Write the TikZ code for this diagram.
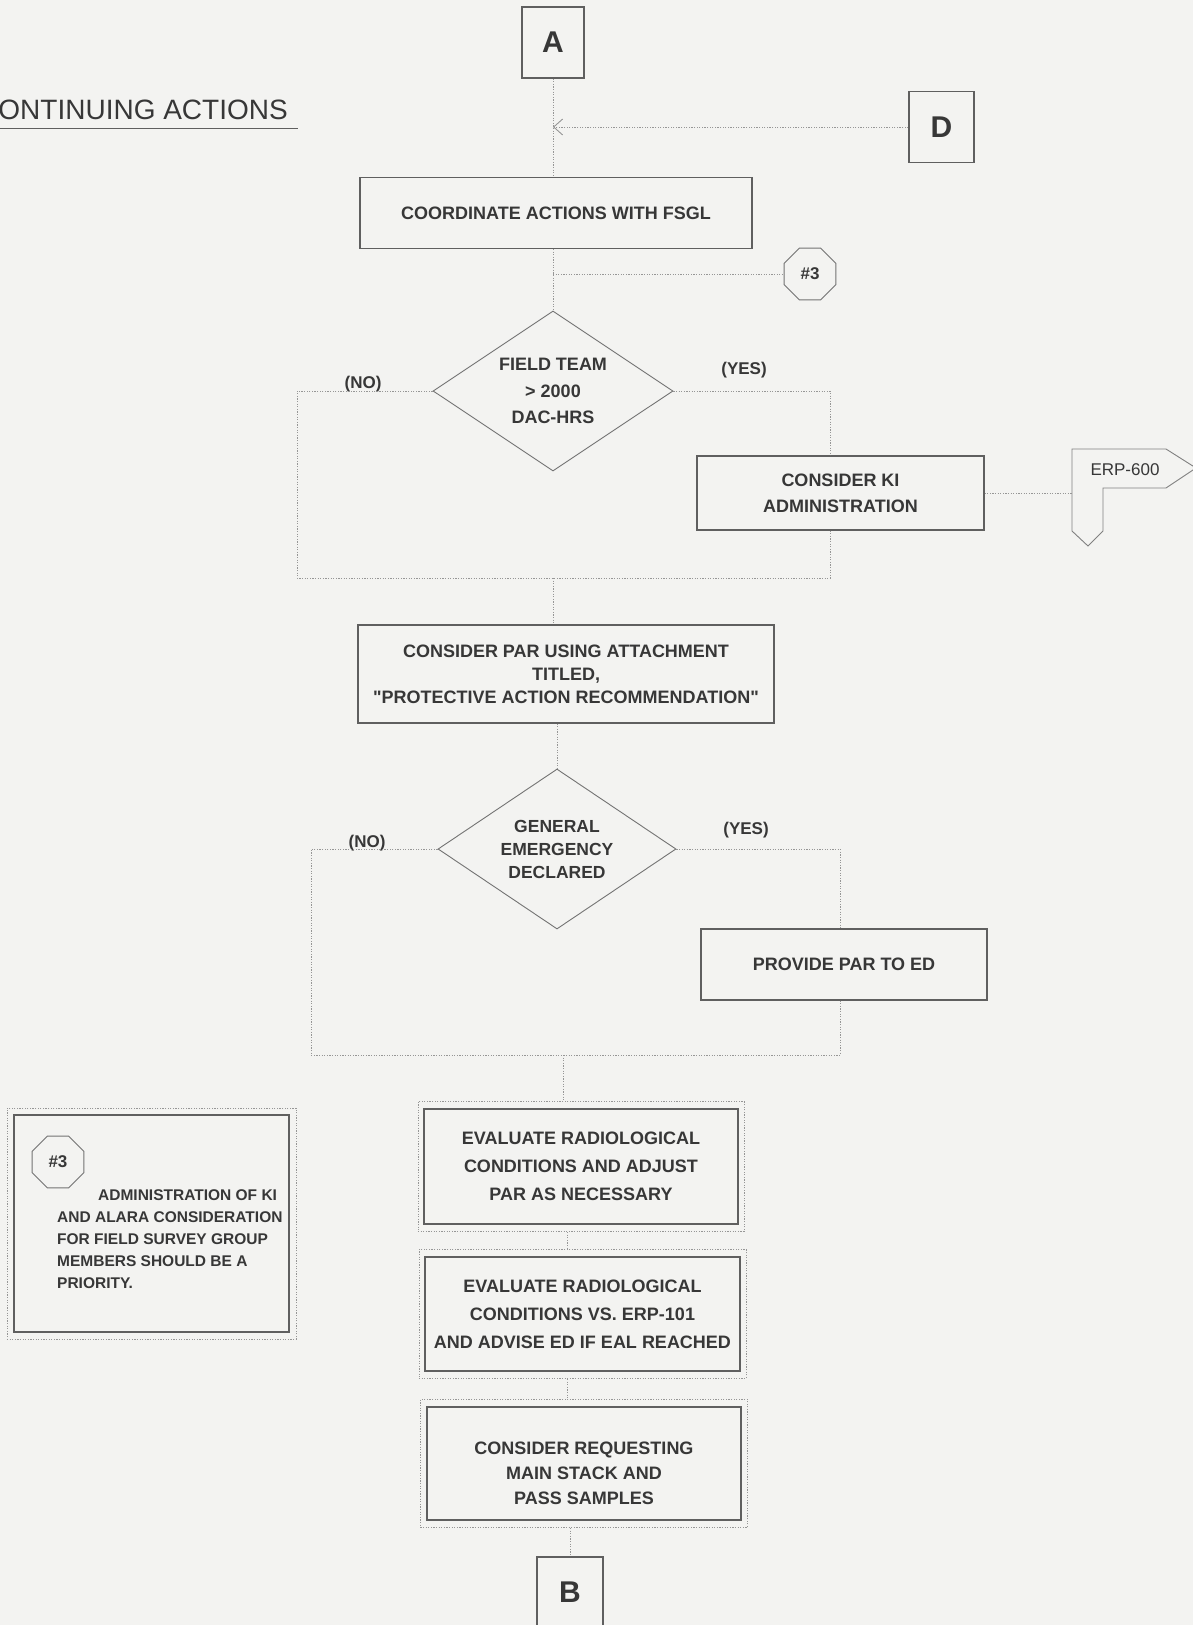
\documentclass[tikz,border=0pt]{standalone}
\usepackage{fontspec}
\setmainfont{Liberation Sans}
\usetikzlibrary{shapes.geometric,arrows.meta,fit,calc}

\definecolor{paper}{RGB}{243,243,241}
\definecolor{ink}{RGB}{55,55,55}
\definecolor{rule}{RGB}{95,95,95}
\definecolor{dots}{RGB}{150,150,150}

\tikzset{
  every node/.style={text=ink},
  procbox/.style={draw=rule, line width=1.1pt, inner sep=0pt, align=center,
    font=\fontsize{18}{26}\selectfont\bfseries},
  decision/.style={diamond, draw=black!55, line width=0.9pt, inner sep=0pt,
    aspect=1.5, align=center, font=\fontsize{18}{26.5}\selectfont\bfseries},
  conn/.style={draw=dots, line width=0.9pt, dash pattern=on 1.2pt off 1.4pt},
  framebox/.style={draw=dots, line width=0.9pt, dash pattern=on 1.2pt off 1.4pt},
  tag/.style={regular polygon, regular polygon sides=8, draw=black!55,
    line width=0.9pt, minimum size=56pt, inner sep=0pt,
    font=\fontsize{17}{17}\selectfont\bfseries},
  lettbox/.style={draw=rule, line width=1.1pt, inner sep=0pt,
    font=\fontsize{30}{30}\selectfont\bfseries},
  branch/.style={inner sep=0pt, font=\fontsize{17}{17}\selectfont\bfseries},
}

\begin{document}
\begin{tikzpicture}[x=1pt,y=-1pt]
\useasboundingbox (0,0) rectangle (1193,1625);
\clip (0,0) rectangle (1193,1625);
\fill[paper] (0,0) rectangle (1193,1625);

% heading
\node[anchor=east, inner sep=0pt, font=\fontsize{28}{28}\selectfont] (title) at (288,110) {CONTINUING ACTIONS};
\draw[rule, line width=1pt] (0,128) -- (298,128);

% entry connectors
\node[lettbox, minimum width=62pt, minimum height=71pt] (A) at (553,42.5) {A};
\node[lettbox, minimum width=65pt, minimum height=71pt] (D) at (941.5,127) {D};

\node[procbox, minimum width=392pt, minimum height=71pt] (coord) at (556,213) {COORDINATE ACTIONS WITH FSGL};
\node[tag] (n3) at (810,274) {\#3};

% first decision
\node[decision, minimum width=240pt, minimum height=160pt] (q1) at (553,391) {FIELD TEAM\\> 2000\\DAC-HRS};
\node[branch] (no1) at (363,384) {(NO)};
\node[branch] (yes1) at (744,370) {(YES)};
\node[procbox, minimum width=287pt, minimum height=74pt] (ki) at (840.5,493) {CONSIDER KI\\ADMINISTRATION};

% off-page reference
\draw[draw=black!50, line width=0.9pt] (1072,449) -- (1166,449) -- (1196,468) -- (1166,488)
  -- (1103,488) -- (1103,531) -- (1088,546) -- (1072,531) -- cycle;
\node[inner sep=0pt, font=\fontsize{17}{17}\selectfont] (erp) at (1125,470) {ERP-600};
\coordinate (erpin) at (1072,490);

\node[procbox, font=\fontsize{18}{23}\selectfont\bfseries, minimum width=416pt, minimum height=98pt] (par) at (566,674)
  {CONSIDER PAR USING ATTACHMENT\\TITLED,\\\textquotedbl PROTECTIVE ACTION RECOMMENDATION\textquotedbl};

% second decision
\node[decision, font=\fontsize{17.5}{23}\selectfont\bfseries, minimum width=238pt, minimum height=160pt] (q2) at (557,849) {GENERAL\\EMERGENCY\\DECLARED};
\node[branch] (no2) at (367,843) {(NO)};
\node[branch] (yes2) at (746,830) {(YES)};
\node[procbox, minimum width=286pt, minimum height=71pt] (prov) at (844,964.5) {PROVIDE PAR TO ED};

% evaluation steps
\node[procbox, font=\fontsize{18}{28}\selectfont\bfseries, minimum width=314pt, minimum height=115pt] (ev1) at (581,1166.5)
  {EVALUATE RADIOLOGICAL\\CONDITIONS AND ADJUST\\PAR AS NECESSARY};
\node[framebox, fit=(ev1), inner xsep=5.5pt, inner ysep=7pt] (ev1o) {};
\node[procbox, font=\fontsize{18}{28}\selectfont\bfseries, minimum width=315pt, minimum height=114pt] (ev2) at (582.5,1314)
  {EVALUATE RADIOLOGICAL\\CONDITIONS VS. ERP-101\\AND ADVISE ED IF EAL REACHED};
\node[framebox, fit=(ev2), inner xsep=5.5pt, inner ysep=7pt] (ev2o) {};
\node[procbox, minimum width=314pt, minimum height=113pt] (ev3) at (584,1463.5) {};
\node[align=center, inner sep=0pt, font=\fontsize{18}{25}\selectfont\bfseries] (ev3t) at (584,1473)
  {CONSIDER REQUESTING\\MAIN STACK AND\\PASS SAMPLES};
\node[framebox, fit=(ev3), inner xsep=6pt, inner ysep=7pt] (ev3o) {};
\node[lettbox, minimum width=66pt, minimum height=70pt] (B) at (570,1592) {B};

% note
\node[draw=rule, line width=1.1pt, minimum width=275pt, minimum height=217pt, inner sep=0pt] (note) at (151.5,1223.5) {};
\node[framebox, fit=(note), inner sep=6.5pt] (noteo) {};
\node[tag] (n3b) at (58,1162) {\#3};
\node[anchor=north west, inner sep=0pt, align=left, font=\fontsize{15.5}{22}\selectfont\bfseries] (notetext) at (57,1189)
  {\hspace*{41pt}ADMINISTRATION OF KI\\AND ALARA CONSIDERATION\\FOR FIELD SURVEY GROUP\\MEMBERS SHOULD BE A\\PRIORITY.};

% connectors
\draw[conn] (A.south) -- (A.south |- coord.north);
\draw[conn, -{Straight Barb[length=9pt,width=16pt,line width=0.9pt]}] (D.west) -- (D.west -| A.south);
\draw[conn] (coord.south -| q1.north) -- (q1.north);
\draw[conn] (q1.north |- n3.west) -- (n3.west);

\coordinate (j1) at (553,578);
\coordinate (j1l) at (297,578);
\coordinate (j1r) at (830,578);
\draw[conn] (q1.west) -| (j1l) -- (j1r);
\draw[conn] (q1.east) -| (j1r |- ki.north);
\draw[conn] (j1r |- ki.south) -- (j1r);
\draw[conn] (ki.east) -- (ki.east -| erpin);
\draw[conn] (j1) -- (j1 |- par.north);
\draw[conn] (par.south -| q2.north) -- (q2.north);

\coordinate (j2) at (563,1055);
\coordinate (j2l) at (311,1055);
\coordinate (j2r) at (840,1055);
\draw[conn] (q2.west) -| (j2l) -- (j2r);
\draw[conn] (q2.east) -| (j2r |- prov.north);
\draw[conn] (j2r |- prov.south) -- (j2r);
\draw[conn] (j2) -- (j2 |- ev1o.north);

\coordinate (cx) at (567,0);
\draw[conn] (ev1o.south -| cx) -- (ev2o.north -| cx);
\draw[conn] (ev2o.south -| cx) -- (ev3o.north -| cx);
\draw[conn] (ev3o.south -| B.north) -- (B.north);
\end{tikzpicture}
\end{document}
